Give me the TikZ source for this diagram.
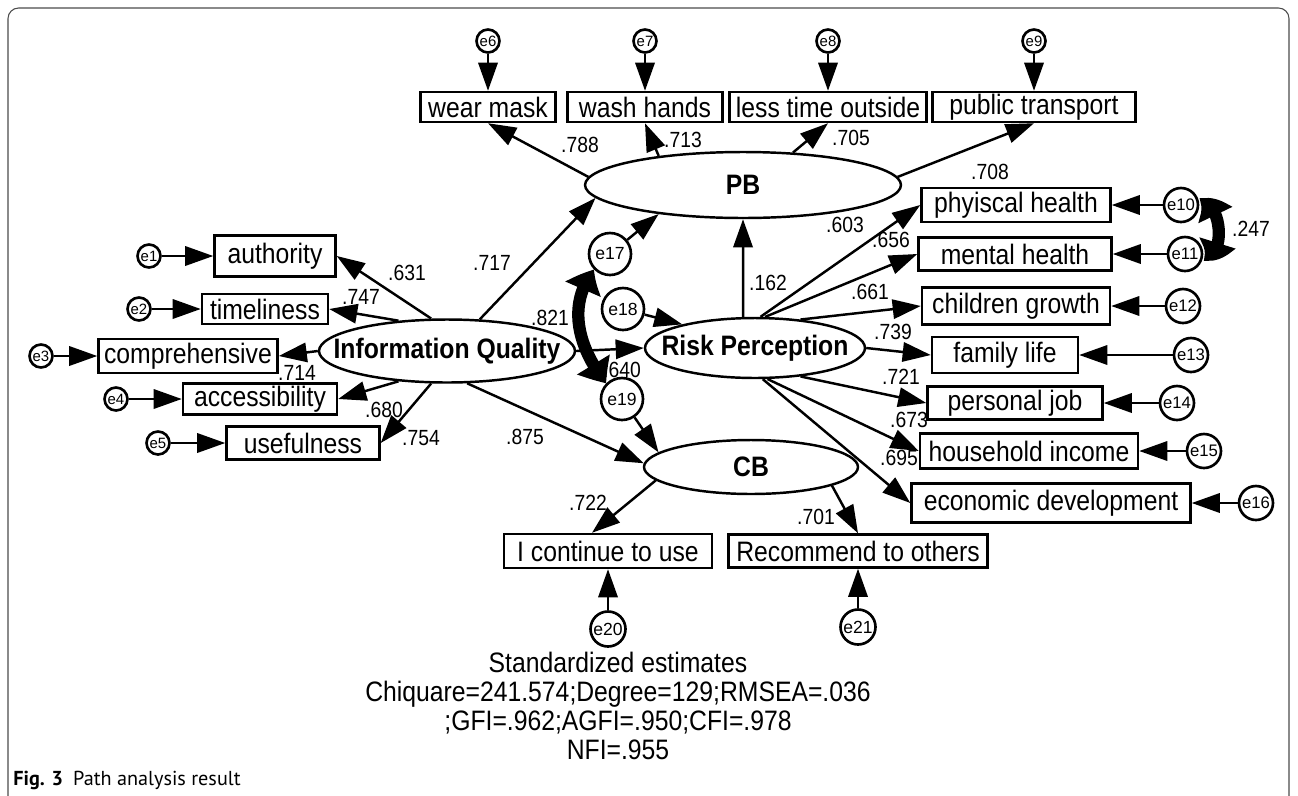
\documentclass[tikz,border=0pt]{standalone}
\usepackage{fontspec}
\setmainfont{Liberation Sans}
\newfontfamily\diagfont{Liberation Sans}[FakeStretch=0.88]
\newfontfamily\capfont{PT Sans}
\usetikzlibrary{shapes.geometric,arrows.meta,bending}

\tikzset{
  obs/.style={draw, line width=1.4pt, inner sep=0pt, minimum height=0.66cm, font=\diagfont\fontsize{16}{18}\selectfont},
  lat/.style={draw, ellipse, line width=1.4pt, inner sep=0pt, font=\diagfont\bfseries\fontsize{16}{18}\selectfont},
  err/.style={draw, circle, line width=1.5pt, inner sep=0pt, minimum size=0.46cm, font=\fontsize{8.5}{9}\selectfont},
  miderr/.style={err, minimum size=0.68cm, font=\fontsize{9.5}{10}\selectfont},
  bigerr/.style={err, minimum size=0.84cm, font=\fontsize{10}{11}\selectfont},
  reg/.style={line width=1.4pt, -{Triangle[length=16pt,width=11pt]}},
  cov/.style={line width=7pt, {Triangle[length=13pt,width=21pt,bend]}-{Triangle[length=13pt,width=21pt,bend]}},
  coef/.style={inner sep=0pt, font=\diagfont\fontsize{12.5}{13}\selectfont},
}

\begin{document}
\begin{tikzpicture}[x=0.02cm, y=-0.02cm]
  \useasboundingbox (0,0) rectangle (1298,795);
  \clip (0,0) rectangle (1298,795);
  \fill[white] (0,0) rectangle (1298,795);
  % Frame of the figure.
  \draw[black!70, line width=0.6pt, rounded corners=6pt] (8,812) rectangle (1289,8);

  % Latent variables.
  \node[lat, minimum width=5.12cm, minimum height=1.26cm] (iq) at (447,351) {\makebox[0pt]{Information Quality}};
  \node[lat, minimum width=6.32cm, minimum height=1.32cm] (pb) at (743,185) {\makebox[0pt]{PB}};
  \node[lat, minimum width=4.4cm, minimum height=1.2cm] (rp) at (755,348) {\makebox[0pt]{Risk Perception}};
  \node[lat, minimum width=4.28cm, minimum height=1.08cm] (cb) at (751,467) {\makebox[0pt]{CB}};

  % Indicators of Information Quality.
  \node[obs, minimum width=2.42cm, minimum height=0.82cm] (au) at (275,256) {authority};
  \node[obs, minimum width=2.52cm, minimum height=0.6cm] (tl) at (265,309) {timeliness};
  \node[obs, minimum width=3.58cm, minimum height=0.68cm] (co) at (188,356) {comprehensive};
  \node[obs, minimum width=3.08cm, minimum height=0.62cm] (ac) at (260,399) {accessibility};
  \node[obs, minimum width=3.06cm] (us) at (303,443) {usefulness};

  % Indicators of PB.
  \node[obs, minimum width=2.7cm, minimum height=0.6cm] (wm) at (488,107) {wear mask};
  \node[obs, minimum width=3.1cm, minimum height=0.6cm] (wh) at (645,107) {wash hands};
  \node[obs, minimum width=3.94cm, minimum height=0.6cm] (lt) at (828,107) {less time outside};
  \node[obs, minimum width=4.06cm, minimum height=0.6cm] (pt) at (1034,107) {public transport};

  % Indicators of Risk Perception.
  \node[obs, minimum width=3.78cm, minimum height=0.68cm] (ph) at (1016,205) {phyiscal health};
  \node[obs, minimum width=3.86cm] (mh) at (1015,254) {mental health};
  \node[obs, minimum width=3.76cm, minimum height=0.74cm] (cg) at (1016,306) {children growth};
  \node[obs, minimum width=2.92cm, minimum height=0.72cm] (fl) at (1005,355) {family life};
  \node[obs, minimum width=3.5cm] (pj) at (1015,403) {personal job};
  \node[obs, minimum width=4.36cm, minimum height=0.7cm] (hi) at (1029,451) {household income};
  \node[obs, minimum width=5.58cm, minimum height=0.78cm] (ed) at (1051,503) {economic development};

  % Indicators of CB.
  \node[obs, minimum width=4.16cm, minimum height=0.68cm] (ic) at (608,551) {I continue to use};
  \node[obs, minimum width=5.18cm] (rc) at (858,551) {Recommend to others};

  % Error terms.
  \node[err] (e1) at (149,256) {e1};
  \node[err] (e2) at (139,309) {e2};
  \node[err] (e3) at (41,356) {e3};
  \node[err] (e4) at (116,399) {e4};
  \node[err] (e5) at (158,443) {e5};
  \node[err] (e6) at (488,41) {e6};
  \node[err] (e7) at (645,41) {e7};
  \node[err] (e8) at (828,41) {e8};
  \node[err] (e9) at (1034,41) {e9};
  \node[miderr] (e10) at (1181,205) {e10};
  \node[miderr] (e11) at (1185,254) {e11};
  \node[miderr] (e12) at (1183,306) {e12};
  \node[miderr] (e13) at (1191,355) {e13};
  \node[miderr] (e14) at (1177,403) {e14};
  \node[miderr] (e15) at (1204,451) {e15};
  \node[miderr] (e16) at (1256,503) {e16};
  \node[bigerr] (e17) at (610,254) {e17};
  \node[bigerr] (e18) at (623,309) {e18};
  \node[bigerr] (e19) at (622,399) {e19};
  \node[bigerr, minimum size=0.7cm] (e20) at (608,629) {e20};
  \node[bigerr, minimum size=0.7cm] (e21) at (858,627) {e21};

  % Paths out of Information Quality.
  \draw[reg] (iq.116) -- (au.east);
  \draw[reg] (iq.148) -- (tl.east);
  \draw[reg] (iq.west) -- (co.east);
  \draw[reg] (iq.212) -- (ac.east);
  \draw[reg] (iq.244) -- (us.east);
  \draw[reg] (iq.44) -- (pb.185);
  \draw[reg] (iq.east) -- (rp.west);
  \draw[reg] (iq.302) -- (cb.178);

  % Paths out of PB.
  \draw[reg] (pb.177) -- (wm.south);
  \draw[reg] (pb.161) -- (wh.south);
  \draw[reg] (pb.33) -- (lt.south);
  \draw[reg] (pb.3) -- (pt.south);

  % Paths out of Risk Perception.
  \draw[reg] (rp.111) -- (pb.south);
  \draw[reg] (rp.80) -- (ph.west);
  \draw[reg] (rp.72) -- (mh.west);
  \draw[reg] (rp.32) -- (cg.west);
  \draw[reg] (rp.east) -- (fl.west);
  \draw[reg] (rp.-32) -- (pj.west);
  \draw[reg] (rp.-68) -- (hi.west);
  \draw[reg] (rp.-76) -- (ed.west);

  % Paths out of CB.
  \draw[reg] (cb.188) -- ([xshift=-0.32cm]ic.north);
  \draw[reg] (cb.-13) -- (rc.north);

  % Error arrows.
  \draw[reg] (e1) -- (au); \draw[reg] (e2) -- (tl); \draw[reg] (e3) -- (co);
  \draw[reg] (e4) -- (ac); \draw[reg] (e5) -- (us);
  \draw[reg] (e6) -- (wm); \draw[reg] (e7) -- (wh); \draw[reg] (e8) -- (lt);
  \draw[reg] (e9) -- (pt);
  \draw[reg] (e10) -- (ph); \draw[reg] (e11) -- (mh); \draw[reg] (e12) -- (cg);
  \draw[reg] (e13) -- (fl); \draw[reg] (e14) -- (pj); \draw[reg] (e15) -- (hi);
  \draw[reg] (e16) -- (ed);
  \draw[reg] (e17) -- (pb.199);
  \draw[reg] (e18) -- (rp.162);
  \draw[reg] (e19) -- (cb.171);
  \draw[reg] (e20) -- (ic); \draw[reg] (e21) -- (rc);

  % Covariances between residuals.
  \draw[cov] (e17.225) .. controls +(-28,35) and +(-28,-35) .. (e19.135);
  \draw[cov] (e10.15) .. controls +(24,0) and +(24,0) .. (e11.-15);

  % Standardized coefficients.
  \node[coef] (k631) at (407,273) {.631};
  \node[coef] (k747) at (361,297) {.747};
  \node[coef] (k714) at (297,373) {.714};
  \node[coef] (k680) at (384,410) {.680};
  \node[coef] (k754) at (421,438) {.754};
  \node[coef] (k875) at (525,437) {.875};
  \node[coef] (k717) at (492,263) {.717};
  \node[coef] (k821) at (550,318) {.821};
  \node[coef] (k640) at (622,370) {.640};
  \node[coef] (k788) at (580,145) {.788};
  \node[coef] (k713) at (683,140) {.713};
  \node[coef] (k705) at (851,138) {.705};
  \node[coef] (k708) at (990,172) {.708};
  \node[coef] (k603) at (845,225) {.603};
  \node[coef] (k656) at (891,240) {.656};
  \node[coef] (k162) at (768,283) {.162};
  \node[coef] (k661) at (870,292) {.661};
  \node[coef] (k739) at (893,332) {.739};
  \node[coef] (k721) at (901,377) {.721};
  \node[coef] (k673) at (909,420) {.673};
  \node[coef] (k695) at (899,458) {.695};
  \node[coef] (k247) at (1251,229) {.247};
  \node[coef] (k722) at (588,503) {.722};
  \node[coef] (k701) at (816,517) {.701};

  % Fit summary and caption.
  \node[align=center, inner sep=0pt, font=\diagfont\fontsize{16}{16.5}\selectfont] (fit) at (618,706)
    {Standardized estimates\\Chiquare=241.574;Degree=129;RMSEA=.036\\;GFI=.962;AGFI=.950;CFI=.978\\NFI=.955};
  \node[anchor=west, inner sep=0pt, font=\capfont\fontsize{11.5}{12}\selectfont] (cap) at (13,780)
    {\textbf{Fig. 3}\hspace{0.5em}Path analysis result};
\end{tikzpicture}
\end{document}
